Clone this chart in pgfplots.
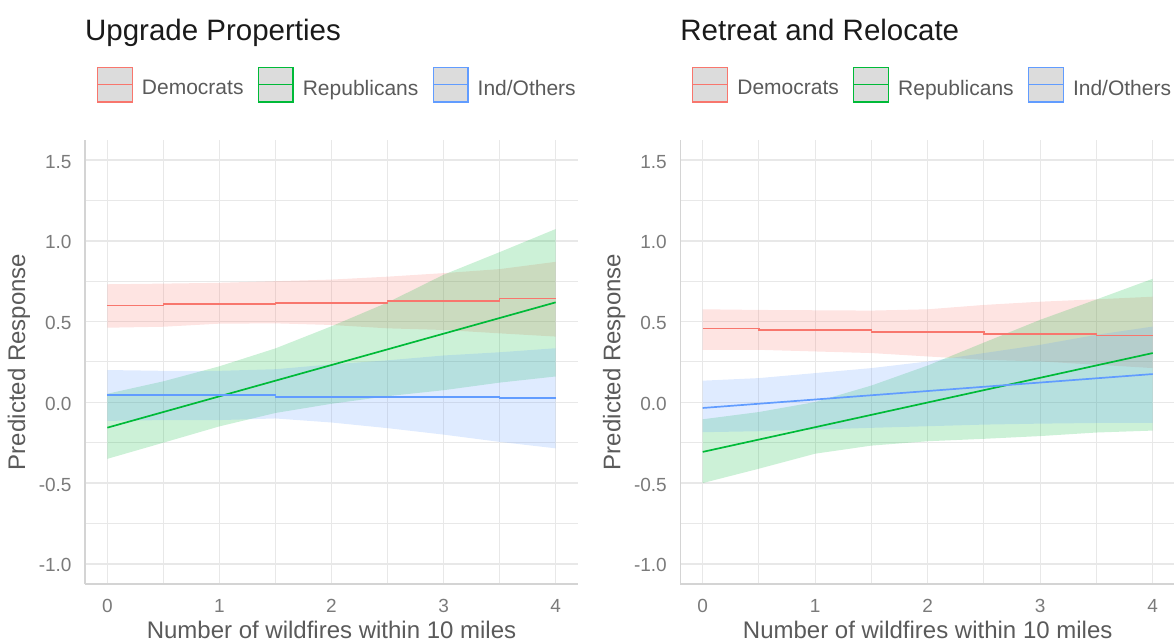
\documentclass[border=0pt]{standalone}
\usepackage{fontspec}
\setmainfont{Liberation Sans}
\usepackage{pgfplots}
\pgfplotsset{compat=1.18}
\definecolor{cDem}{HTML}{F8766D}
\definecolor{cRep}{HTML}{00BA38}
\definecolor{cInd}{HTML}{619CFF}
\definecolor{gridc}{HTML}{E8E8E8}
\definecolor{axc}{HTML}{D4D4D4}
\definecolor{tickc}{HTML}{7A7A7A}
\definecolor{labc}{HTML}{5A5A5A}
\definecolor{titc}{HTML}{1A1A1A}
\definecolor{keyfill}{HTML}{DCDCDC}
\pgfplotsset{
  ribkey/.style={legend image code/.code={
      \draw[fill=keyfill, draw=#1, line width=1.3pt] (0.65pt,-13.75pt) rectangle (35.35pt,20.95pt);
      \draw[draw=#1, line width=1.6pt] (0.65pt,3.6pt) -- (35.35pt,3.6pt);
  }},
  panel/.style={
    scale only axis, anchor=south west, height=444.1pt,
    xmin=-0.2, xmax=4.2, ymin=-1.125, ymax=1.625,
    xtick={0,1,2,3,4}, xticklabels={0,1,2,3,4},
    ytick={-1,-0.5,0,0.5,1,1.5}, yticklabels={-1.0,-0.5,0.0,0.5,1.0,1.5},
    minor xtick={0.5,1.5,2.5,3.5}, minor ytick={-0.75,-0.25,0.25,0.75,1.25},
    grid=both,
    major grid style={draw=gridc, line width=1.4pt},
    minor grid style={draw=gridc, line width=1.0pt},
    major tick length=0pt, minor tick length=0pt,
    axis x line*=bottom, axis y line*=left,
    axis line style={draw=axc, line width=1.2pt, -},
    tick label style={font=\fontsize{19}{22}\selectfont, text=tickc, inner sep=0pt},
    xticklabel style={anchor=base, yshift=-28.8pt},
    yticklabel style={anchor=east, xshift=-13.2pt, yshift=-1.5pt},
    xlabel={Number of wildfires within 10 miles},
    ylabel={Predicted Response},
    label style={font=\fontsize{24}{28}\selectfont, text=labc},
    xlabel style={at={(axis description cs:0.5,0)}, anchor=base, yshift=-54pt},
    ylabel style={at={(axis description cs:-0.1336,0.5)}, anchor=center},
    title style={at={(axis description cs:0,1.2114)}, anchor=base west, inner sep=0pt,
      font=\fontsize{29.5}{34}\selectfont, text=titc},
    legend columns=3, legend cell align=left,
    legend style={at={(axis description cs:0.0239,1.1243)}, anchor=west, draw=none, fill=none,
      inner sep=0pt, outer sep=0pt, font=\fontsize{21}{25}\selectfont, text=labc,
      nodes={inner sep=0pt},
      /tikz/every odd column/.append style={column sep=9pt},
      /tikz/every even column/.append style={column sep=14pt}},
  },
  rib/.style={draw=none, fill=#1, fill opacity=0.2, forget plot},
  ln/.style={draw=#1, line width=1.7pt, forget plot},
}
\begin{document}
\begin{tikzpicture}[x=1pt,y=1pt]
\useasboundingbox (0,0) rectangle (1174,642);
% ---------------- Left panel ----------------
\begin{axis}[panel, at={(84.9pt,58pt)}, width=493.2pt, title={Upgrade Properties}]
% ribbons
\addplot[rib=cDem] coordinates {(0,0.731)(0.5,0.735)(1,0.740)(1.5,0.750)(2,0.760)(2.5,0.778)(3,0.800)(3.5,0.825)(4,0.870)
  (4,0.407)(3.5,0.427)(3,0.448)(2.5,0.458)(2,0.479)(1.5,0.489)(1,0.487)(0.5,0.468)(0,0.462)};
\addplot[rib=cRep] coordinates {(0,0.053)(0.5,0.130)(1,0.223)(1.5,0.334)(2,0.471)(2.5,0.618)(3,0.790)(3.5,0.930)(4,1.073)
  (4,0.160)(3.5,0.122)(3,0.075)(2.5,0.038)(2,-0.009)(1.5,-0.066)(1,-0.149)(0.5,-0.250)(0,-0.350)};
\addplot[rib=cInd] coordinates {(0,0.200)(0.5,0.195)(1,0.195)(1.5,0.205)(2,0.235)(2.5,0.260)(3,0.290)(3.5,0.310)(4,0.335)
  (4,-0.285)(3.5,-0.245)(3,-0.200)(2.5,-0.160)(2,-0.125)(1.5,-0.100)(1,-0.110)(0.5,-0.110)(0,-0.115)};
% lines
\addplot[ln=cDem] coordinates {(0,0.599)(0.5,0.599)(0.5,0.607)(1.5,0.607)(1.5,0.617)(2.5,0.617)(2.5,0.628)(3.5,0.628)(3.5,0.642)(4,0.642)};
\addplot[ln=cRep] coordinates {(0,-0.157)(4,0.619)};
\addplot[ln=cInd] coordinates {(0,0.045)(1.5,0.045)(1.5,0.035)(3.5,0.035)(3.5,0.025)(4,0.025)};
\addlegendimage{ribkey=cDem}\addlegendentry{Democrats}
\addlegendimage{ribkey=cRep}\addlegendentry{Republicans}
\addlegendimage{ribkey=cInd}\addlegendentry{Ind/Others}
\end{axis}
% ---------------- Right panel ----------------
\begin{axis}[panel, at={(680.2pt,58pt)}, width=495pt, title={Retreat and Relocate}]
\addplot[rib=cDem] coordinates {(0,0.576)(0.5,0.572)(1,0.570)(1.5,0.568)(2,0.576)(2.5,0.603)(3,0.623)(3.5,0.638)(4,0.654)
  (4,0.212)(3.5,0.233)(3,0.253)(2.5,0.263)(2,0.284)(1.5,0.305)(1,0.315)(0.5,0.325)(0,0.325)};
\addplot[rib=cRep] coordinates {(0,-0.105)(0.5,-0.060)(1,0.002)(1.5,0.104)(2,0.228)(2.5,0.370)(3,0.511)(3.5,0.637)(4,0.765)
  (4,-0.175)(3.5,-0.187)(3,-0.209)(2.5,-0.226)(2,-0.241)(1.5,-0.268)(1,-0.318)(0.5,-0.411)(0,-0.500)};
\addplot[rib=cInd] coordinates {(0,0.134)(0.5,0.150)(1,0.181)(1.5,0.212)(2,0.253)(2.5,0.305)(3,0.356)(3.5,0.418)(4,0.469)
  (4,-0.128)(3.5,-0.128)(3,-0.132)(2.5,-0.138)(2,-0.148)(1.5,-0.158)(1,-0.169)(0.5,-0.179)(0,-0.185)};
\addplot[ln=cDem] coordinates {(0,0.457)(0.5,0.457)(0.5,0.4465)(1.5,0.4465)(1.5,0.436)(2.5,0.436)(2.5,0.424)(3.5,0.424)(3.5,0.414)(4,0.414)};
\addplot[ln=cRep] coordinates {(0,-0.307)(4,0.305)};
\addplot[ln=cInd] coordinates {(0,-0.035)(4,0.175)};
\addlegendimage{ribkey=cDem}\addlegendentry{Democrats}
\addlegendimage{ribkey=cRep}\addlegendentry{Republicans}
\addlegendimage{ribkey=cInd}\addlegendentry{Ind/Others}
\end{axis}
\end{tikzpicture}
\end{document}
